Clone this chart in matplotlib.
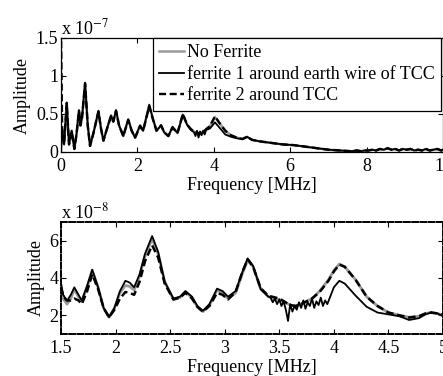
"""Espectro de amplitude com e sem ferrite (0-10 MHz e detalhe 1.5-5 MHz)."""
import matplotlib
matplotlib.use("Agg")
import matplotlib.pyplot as plt

# --- painel superior, amplitude em 1e-7 ---
F_TOP = [0.0, 0.03, 0.08, 0.15, 0.21, 0.28, 0.35, 0.41, 0.47, 0.51,
         0.55, 0.63, 0.70, 0.76, 0.85, 0.98, 1.05, 1.11, 1.20, 1.31,
         1.37, 1.44, 1.52, 1.63, 1.76, 1.85, 1.94, 2.07, 2.15, 2.31,
         2.40, 2.50, 2.62, 2.70, 2.81, 2.92, 3.05, 3.19, 3.30, 3.40,
         3.48, 3.52, 3.56, 3.60, 3.64, 3.68, 3.72, 3.76, 3.80, 3.90,
         4.03, 4.15, 4.30, 4.45, 4.60, 4.75, 4.87, 5.00, 5.20, 5.50,
         5.80, 6.10, 6.40, 6.70, 7.00, 7.30, 7.60, 7.75, 7.85, 7.95,
         8.05, 8.15, 8.25, 8.35, 8.45, 8.55, 8.65, 8.75, 8.85, 8.95,
         9.05, 9.15, 9.25, 9.35, 9.45, 9.55, 9.65, 9.75, 9.85, 9.95, 10.0]

TOP_SEM = [0.02, 0.30, 0.10, 0.65, 0.10, 0.28, 0.04, 0.25, 0.55, 0.35,
           0.45, 0.91, 0.35, 0.08, 0.25, 0.54, 0.30, 0.15, 0.30, 0.48,
           0.40, 0.55, 0.35, 0.21, 0.43, 0.28, 0.19, 0.35, 0.28, 0.62,
           0.45, 0.28, 0.35, 0.26, 0.21, 0.33, 0.25, 0.49, 0.36, 0.30,
           0.27, 0.25, 0.26, 0.24, 0.25, 0.25, 0.27, 0.28, 0.30, 0.34,
           0.46, 0.38, 0.28, 0.22, 0.19, 0.17, 0.20, 0.16, 0.14, 0.12,
           0.10, 0.09, 0.07, 0.05, 0.03, 0.02, 0.01, 0.02, 0.01, 0.02,
           0.02, 0.03, 0.02, 0.04, 0.03, 0.05, 0.03, 0.04, 0.02, 0.04,
           0.03, 0.04, 0.02, 0.03, 0.02, 0.04, 0.02, 0.03, 0.04, 0.02, 0.03]

TOP_F1 = [0.02, 0.30, 0.10, 0.65, 0.10, 0.28, 0.04, 0.25, 0.55, 0.35,
          0.45, 0.91, 0.35, 0.08, 0.25, 0.54, 0.30, 0.15, 0.30, 0.48,
          0.40, 0.55, 0.35, 0.21, 0.43, 0.28, 0.19, 0.35, 0.28, 0.62,
          0.45, 0.28, 0.35, 0.26, 0.21, 0.33, 0.25, 0.49, 0.36, 0.29,
          0.26, 0.21, 0.28, 0.19, 0.27, 0.22, 0.28, 0.23, 0.29, 0.31,
          0.39, 0.32, 0.23, 0.20, 0.18, 0.17, 0.20, 0.16, 0.14, 0.12,
          0.10, 0.09, 0.07, 0.05, 0.03, 0.02, 0.01, 0.02, 0.01, 0.02,
          0.02, 0.03, 0.02, 0.04, 0.03, 0.05, 0.03, 0.04, 0.02, 0.04,
          0.03, 0.04, 0.02, 0.03, 0.02, 0.04, 0.02, 0.03, 0.04, 0.02, 0.03]

TOP_F2 = [1.60, 0.30, 0.10, 0.64, 0.10, 0.27, 0.04, 0.25, 0.54, 0.35,
          0.45, 0.90, 0.35, 0.08, 0.25, 0.53, 0.30, 0.15, 0.30, 0.47,
          0.40, 0.54, 0.35, 0.21, 0.42, 0.28, 0.19, 0.34, 0.28, 0.60,
          0.44, 0.28, 0.35, 0.26, 0.21, 0.32, 0.25, 0.50, 0.36, 0.30,
          0.27, 0.25, 0.26, 0.24, 0.25, 0.25, 0.27, 0.28, 0.30, 0.34,
          0.47, 0.38, 0.28, 0.22, 0.19, 0.17, 0.20, 0.16, 0.14, 0.12,
          0.10, 0.09, 0.07, 0.05, 0.03, 0.02, 0.01, 0.02, 0.01, 0.02,
          0.02, 0.03, 0.02, 0.04, 0.03, 0.05, 0.03, 0.04, 0.02, 0.04,
          0.03, 0.04, 0.02, 0.03, 0.02, 0.04, 0.02, 0.03, 0.04, 0.02, 0.03]

# --- painel inferior, amplitude em 1e-8 ---
F_BOT = [1.50, 1.52, 1.555, 1.59, 1.622, 1.66, 1.69, 1.74, 1.786, 1.84,
         1.89, 1.94, 1.99, 2.04, 2.09, 2.13, 2.17, 2.22, 2.27, 2.335,
         2.39, 2.45, 2.53, 2.59, 2.64, 2.70, 2.75, 2.80, 2.86, 2.93,
         2.98, 3.03, 3.10, 3.16, 3.21, 3.26, 3.33, 3.40, 3.50, 3.60,
         3.65, 3.70, 3.80, 3.87, 3.95, 4.00, 4.05, 4.10, 4.20, 4.30,
         4.40, 4.50, 4.60, 4.69, 4.78, 4.84, 4.89, 4.95, 5.00]

BOT_SEM = [3.6, 2.9, 2.6, 2.9, 3.4, 3.0, 2.75, 3.5, 4.4, 3.5,
           2.4, 1.9, 2.4, 3.2, 3.6, 3.55, 3.35, 4.1, 5.2, 6.1,
           5.3, 3.8, 2.85, 2.95, 3.25, 2.95, 2.45, 2.2, 2.55, 3.35,
           3.2, 2.9, 3.2, 4.2, 4.95, 4.6, 3.4, 3.0, 2.85, 2.55,
           2.5, 2.6, 2.9, 3.3, 3.9, 4.4, 4.75, 4.6, 3.9, 3.0,
           2.5, 2.15, 2.0, 1.9, 1.95, 2.1, 2.15, 2.1, 2.0]

BOT_F2 = [3.5, 3.0, 2.8, 2.8, 2.9, 2.8, 2.6, 3.3, 4.2, 3.4,
          2.4, 1.9, 2.3, 2.9, 3.25, 3.2, 3.1, 3.8, 4.9, 5.75,
          5.1, 3.7, 2.85, 2.95, 3.2, 2.9, 2.45, 2.2, 2.5, 3.2,
          3.1, 2.85, 3.25, 4.3, 5.0, 4.6, 3.45, 3.05, 2.9, 2.55,
          2.5, 2.6, 2.9, 3.25, 3.85, 4.35, 4.72, 4.6, 3.9, 3.0,
          2.5, 2.15, 2.0, 1.88, 1.95, 2.1, 2.15, 2.1, 2.02]

F_BOT_F1 = [1.50, 1.52, 1.555, 1.59, 1.622, 1.66, 1.69, 1.74, 1.786, 1.84,
            1.89, 1.94, 1.99, 2.04, 2.09, 2.13, 2.17, 2.22, 2.27, 2.335,
            2.39, 2.45, 2.53, 2.59, 2.64, 2.70, 2.75, 2.80, 2.86, 2.93,
            2.98, 3.03, 3.10, 3.16, 3.21, 3.26, 3.33, 3.40,
            3.42, 3.44, 3.46, 3.48, 3.50, 3.52, 3.54, 3.56, 3.58, 3.60,
            3.62, 3.64, 3.66, 3.68, 3.70, 3.72, 3.74, 3.76, 3.78, 3.80,
            3.82, 3.84, 3.86, 3.88, 3.90, 3.92, 3.94, 3.96,
            4.00, 4.05, 4.10, 4.20, 4.30, 4.40, 4.50, 4.60, 4.69, 4.78,
            4.84, 4.89, 4.95, 5.00]

BOT_F1 = [3.7, 3.1, 2.78, 3.1, 3.5, 3.1, 2.8, 3.6, 4.45, 3.5,
          2.4, 1.9, 2.4, 3.3, 3.85, 3.75, 3.5, 4.2, 5.3, 6.25,
          5.4, 3.8, 2.9, 3.0, 3.3, 3.0, 2.5, 2.24, 2.6, 3.43,
          3.3, 3.0, 3.3, 4.3, 5.05, 4.65, 3.4, 3.0,
          2.95, 2.7, 2.9, 2.6, 2.85, 2.5, 2.75, 2.3, 1.7, 2.6,
          2.2, 2.5, 2.3, 2.7, 2.4, 2.8, 2.35, 2.7, 2.5, 2.9,
          2.4, 2.75, 2.55, 2.95, 2.5, 2.8, 2.6, 2.9,
          3.5, 3.85, 3.7, 3.05, 2.46, 2.15, 2.05, 1.95, 1.75, 1.85,
          2.05, 2.15, 2.1, 1.95]

LEGENDA = ["No Ferrite", "ferrite 1 around earth wire of TCC", "ferrite 2 around TCC"]

plt.rcParams["font.family"] = ["Liberation Serif", "DejaVu Serif"]
plt.rcParams["mathtext.fontset"] = "stix"

CINZA = "#999999"
W, H = 443, 376
FS = 13


def estilo(ax):
    ax.tick_params(direction="in", top=True, right=True, length=3.5,
                   width=0.8, labelsize=FS)
    ax.tick_params(axis="x", pad=4.5)
    ax.tick_params(axis="y", pad=2)
    for s in ax.spines.values():
        s.set_linewidth(0.9)


fig = plt.figure(figsize=(W / 100, H / 100), dpi=100)

ax1 = fig.add_axes([61 / W, 1 - 152 / H, 382 / W, 114 / H])
ax1.plot(F_TOP, TOP_SEM, color=CINZA, lw=1.8, label=LEGENDA[0])
ax1.plot(F_TOP, TOP_F1, color="black", lw=1.3, label=LEGENDA[1])
ax1.plot(F_TOP, TOP_F2, color="black", lw=1.7, ls=(0, (3, 1.5)), label=LEGENDA[2])
ax1.set_xlim(0, 10)
ax1.set_ylim(0, 1.5)
ax1.set_xticks([0, 2, 4, 6, 8, 10])
ax1.set_yticks([0, 0.5, 1, 1.5])
ax1.set_yticklabels(["0", "0.5", "1", "1.5"])
estilo(ax1)
ax1.set_xlabel("Frequency [MHz]", fontsize=FS, labelpad=1.5)
ax1.set_ylabel("Amplitude", fontsize=FS, labelpad=3.5)
ax1.text(0.0, 1.0, r"x 10$^{-7}$", transform=ax1.transAxes, fontsize=FS,
         ha="left", va="bottom")
leg = ax1.legend(loc="upper left", bbox_to_anchor=(0.24, 1.0), fontsize=FS,
                 handlelength=1.4, handletextpad=0.15, borderpad=0.35,
                 labelspacing=0.25, borderaxespad=0.0, fancybox=False,
                 framealpha=1.0)
leg.get_frame().set_edgecolor("black")
leg.get_frame().set_linewidth(0.9)

ax2 = fig.add_axes([61 / W, 1 - 334 / H, 382 / W, 112 / H])
ax2.plot(F_BOT, BOT_SEM, color=CINZA, lw=2.0)
ax2.plot(F_BOT_F1, BOT_F1, color="black", lw=1.3)
ax2.plot(F_BOT, BOT_F2, color="black", lw=1.8, ls=(0, (3, 1.5)))
ax2.set_xlim(1.5, 5)
ax2.set_ylim(1, 7)
ax2.set_xticks([1.5, 2, 2.5, 3, 3.5, 4, 4.5, 5])
ax2.set_xticklabels(["1.5", "2", "2.5", "3", "3.5", "4", "4.5", "5"])
ax2.set_yticks([2, 4, 6])
estilo(ax2)
for s in ax2.spines.values():
    s.set_linestyle((0, (3, 1.2)))
    s.set_linewidth(1.4)
ax2.set_xlabel("Frequency [MHz]", fontsize=FS, labelpad=1.5)
ax2.set_ylabel("Amplitude", fontsize=FS, labelpad=3.5)
ax2.text(0.0, 1.0, r"x 10$^{-8}$", transform=ax2.transAxes, fontsize=FS,
         ha="left", va="bottom")

fig.savefig("out.png", dpi=100)
